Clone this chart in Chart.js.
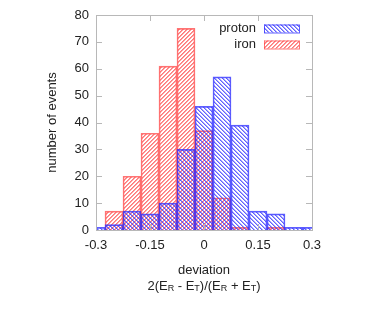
<!DOCTYPE html>
<html>
<head>
<meta charset="utf-8">
<script src="https://cdn.jsdelivr.net/npm/chart.js@4.4.0/dist/chart.umd.min.js"></script>
<style>
  html, body { margin: 0; padding: 0; background: #fff; }
</style>
</head>
<body>
<canvas id="c" width="374" height="312"></canvas>
<script>
// histogram bins (bin centres, width 0.05)
const binCenters = [-0.3, -0.25, -0.2, -0.15, -0.1, -0.05, 0, 0.05, 0.1, 0.15, 0.2, 0.25, 0.3];
const protonCounts = [1, 2, 7, 6, 10, 30, 46, 57, 39, 7, 6, 1, 1];
const ironCounts = [0, 7, 20, 36, 61, 75, 37, 12, 1, 0, 1, 0, 0];
const seriesNames = ["proton", "iron"];
const xTicks = [-0.3, -0.15, 0, 0.15, 0.3];
const yTicks = [0, 10, 20, 30, 40, 50, 60, 70, 80];

const FONT = '"Liberation Sans", Arial, sans-serif';
const TEXT = '#222';
const FRAME = '#b8b8b8';

// 45 degree hatch tile: two pixels per row
function hatch(r, g, b, a1, a2, dir) {
    const s = 4;
    const c = document.createElement('canvas');
    c.width = s; c.height = s;
    const t = c.getContext('2d');
    for (let i = 0; i < s; i++) {
        const x = dir === '/' ? s - 1 - i : i;
        t.fillStyle = `rgba(${r},${g},${b},${a1})`;
        t.fillRect(x, i, 1, 1);
        t.fillStyle = `rgba(${r},${g},${b},${a2})`;
        t.fillRect((x + 1) % s, i, 1, 1);
    }
    return t.createPattern(c, 'repeat');
}

const ctx = document.getElementById('c').getContext('2d');
const protonFill = hatch(60, 60, 255, 0.8, 0.45, '\\');
const ironFill = hatch(255, 90, 90, 0.8, 0.6, '/');
const protonLine = 'rgba(40,40,255,0.75)';
const ironLine = 'rgba(255,70,70,0.75)';

const framePlugin = {
    id: 'frame',
    afterDraw(chart) {
        const c = chart.ctx;
        const a = chart.chartArea;
        const xs = chart.scales.x, ys = chart.scales.y;
        c.save();
        c.strokeStyle = FRAME;
        c.lineWidth = 1;
        c.strokeRect(Math.round(a.left) + 0.5, Math.round(a.top) + 0.5,
            Math.round(a.right - a.left), Math.round(a.bottom - a.top));
        c.beginPath();
        yTicks.slice(1, -1).forEach(v => {
            const y = Math.round(ys.getPixelForValue(v)) + 0.5;
            c.moveTo(a.left, y); c.lineTo(a.left + 6, y);
            c.moveTo(a.right, y); c.lineTo(a.right - 6, y);
        });
        xTicks.slice(1, -1).forEach(v => {
            const x = Math.round(xs.getPixelForValue(v)) + 0.5;
            c.moveTo(x, a.top); c.lineTo(x, a.top + 6);
            c.moveTo(x, a.bottom); c.lineTo(x, a.bottom - 6);
        });
        c.stroke();

        // legend, top right inside the frame
        c.font = '13px ' + FONT;
        c.textAlign = 'right';
        c.textBaseline = 'middle';
        const fills = [protonFill, ironFill];
        const lines = [protonLine, ironLine];
        seriesNames.forEach((name, i) => {
            const yc = a.top + 13.5 + i * 16;
            c.fillStyle = TEXT;
            c.fillText(name, a.right - 56, yc);
            c.fillStyle = fills[i];
            c.fillRect(a.right - 48, yc - 4, 35, 8);
            c.strokeStyle = lines[i];
            c.strokeRect(a.right - 48 + 0.5, yc - 4 + 0.5, 35, 8);
        });

        // axis titles
        c.fillStyle = TEXT;
        c.textAlign = 'center';
        const cx = (a.left + a.right) / 2;
        c.fillText('deviation', cx, 270);

        // second line with subscripts
        const parts = [['2(E', 0], ['R', 1], [' - E', 0], ['T', 1], [')/(E', 0], ['R', 1], [' + E', 0], ['T', 1], [')', 0]];
        const fNorm = '13px ' + FONT, fSub = '9px ' + FONT;
        let w = 0;
        parts.forEach(p => { c.font = p[1] ? fSub : fNorm; w += c.measureText(p[0]).width; });
        let x = cx - w / 2;
        c.textAlign = 'left';
        parts.forEach(p => {
            c.font = p[1] ? fSub : fNorm;
            c.fillText(p[0], x, p[1] ? 289 : 286);
            x += c.measureText(p[0]).width;
        });

        c.font = '13px ' + FONT;
        c.textAlign = 'center';
        c.translate(52, (a.top + a.bottom) / 2);
        c.rotate(-Math.PI / 2);
        c.fillText('number of events', 0, 0);
        c.restore();
    }
};

new Chart(ctx, {
    type: 'bar',
    data: {
        datasets: [{
            label: seriesNames[0],
            data: binCenters.map((x, i) => ({ x: x, y: protonCounts[i] })),
            backgroundColor: protonFill,
            borderColor: protonLine,
            borderWidth: 1,
            order: 1
        }, {
            label: seriesNames[1],
            data: binCenters.map((x, i) => ({ x: x, y: ironCounts[i] })),
            backgroundColor: ironFill,
            borderColor: ironLine,
            borderWidth: 1,
            order: 2
        }]
    },
    options: {
        responsive: false,
        animation: false,
        devicePixelRatio: 1,
        grouped: false,
        barPercentage: 1,
        categoryPercentage: 1,
        layout: { padding: { left: 0, right: 62, top: 15, bottom: 0 } },
        plugins: {
            legend: { display: false },
            tooltip: { enabled: false }
        },
        scales: {
            x: {
                type: 'linear',
                min: -0.3,
                max: 0.3,
                offset: false,
                afterBuildTicks: s => { s.ticks = xTicks.map(v => ({ value: v })); },
                afterFit: s => { s.height = 82; },
                grid: { display: false, drawTicks: false, offset: false },
                border: { display: false },
                ticks: {
                    padding: 8,
                    color: TEXT,
                    font: { family: FONT, size: 13 },
                    callback: v => String(+v.toFixed(2))
                }
            },
            y: {
                min: 0,
                max: 80,
                afterBuildTicks: s => { s.ticks = yTicks.map(v => ({ value: v })); },
                afterFit: s => { s.width = 96; },
                grid: { display: false, drawTicks: false },
                border: { display: false },
                ticks: {
                    padding: 7,
                    color: TEXT,
                    font: { family: FONT, size: 13 }
                }
            }
        }
    },
    plugins: [framePlugin]
});
</script>
</body>
</html>
